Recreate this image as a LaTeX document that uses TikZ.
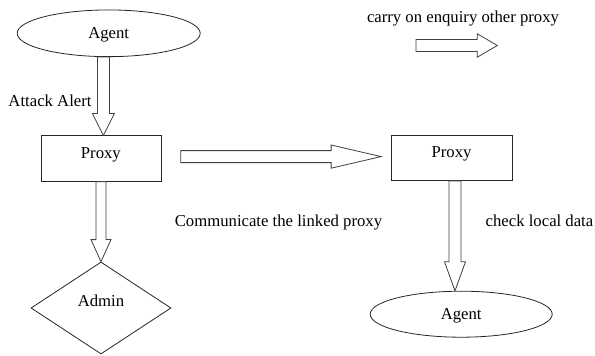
\documentclass[tikz,border=0pt]{standalone}
\usepackage{fontspec}
\setmainfont{Liberation Serif}
\usetikzlibrary{calc,shapes.geometric}

% hollow block arrow: start, end, shaft half-width, head half-width, head length
\newcommand\blockarr[5]{%
  \coordinate (hb) at ($(#2)!#5pt!(#1)$);
  \draw[blockarrow]
    ($(#1)!#3pt!90:(#2)$) -- ($(hb)!#3pt!90:(#2)$) -- ($(hb)!#4pt!90:(#2)$)
    -- (#2)
    -- ($(hb)!#4pt!-90:(#2)$) -- ($(hb)!#3pt!-90:(#2)$) -- ($(#1)!#3pt!-90:(#2)$)
    -- cycle;}

\begin{document}
\begin{tikzpicture}[x=1pt,y=-1pt,
  font=\fontsize{16.7}{20}\selectfont,
  outline/.style={draw=black!85,line width=0.8pt},
  agentnode/.style={outline,ellipse,inner sep=0pt,text depth=0pt},
  proxynode/.style={outline,rectangle,inner sep=0pt,minimum width=120pt,
    minimum height=45.5pt,text height=11pt,text depth=11pt},
  adminnode/.style={outline,diamond,inner sep=0pt,minimum width=140pt,
    minimum height=92pt,text depth=15.5pt},
  blockarrow/.style={draw=black!75,line width=0.8pt,fill=white,line join=miter},
  caption/.style={inner sep=0pt,anchor=base}]
\useasboundingbox (0,0) rectangle (595,356);

% nodes
\node[agentnode,minimum width=183pt,minimum height=46.7pt] (agent1) at (108.7,33.3) {Agent};
\node[proxynode] (proxy1) at (100.9,158.6) {Proxy};
\node[proxynode,minimum width=121pt] (proxy2) at (451.5,157.8) {Proxy};
\node[adminnode] (admin) at (101,308) {Admin};
\node[agentnode,minimum width=182pt,minimum height=46pt] (agent2) at (461.2,314.2) {Agent};

% free-standing arrow ends
\coordinate (c1) at (416,45.5);
\coordinate (c2) at (497.3,45.5);

% connectors
\blockarr{$(proxy1.north |- agent1.south)+(2.5,0)$}{$(proxy1.north)+(2.5,0)$}{6}{11}{22}
\blockarr{proxy1.south}{admin.north}{5}{10}{22}
\blockarr{$(proxy1.east)+(19.5,-2)$}{$(proxy2.west)+(-9.5,-1.2)$}{6}{11.6}{50}
\blockarr{$(proxy2.south)+(3.5,0)$}{$(proxy2.south |- agent2.north)+(3.5,0)$}{6}{10.5}{29}
\blockarr{c1}{c2}{6}{11.7}{20}

% labels
\node[caption] (l1) at (50,106.5) {Attack Alert};
\node[caption] (l2) at (463,23) {carry on enquiry other proxy};
\node[caption] (l3) at (278.5,226) {Communicate the linked proxy};
\node[caption] (l4) at (539.5,226) {check local data};
\end{tikzpicture}
\end{document}
